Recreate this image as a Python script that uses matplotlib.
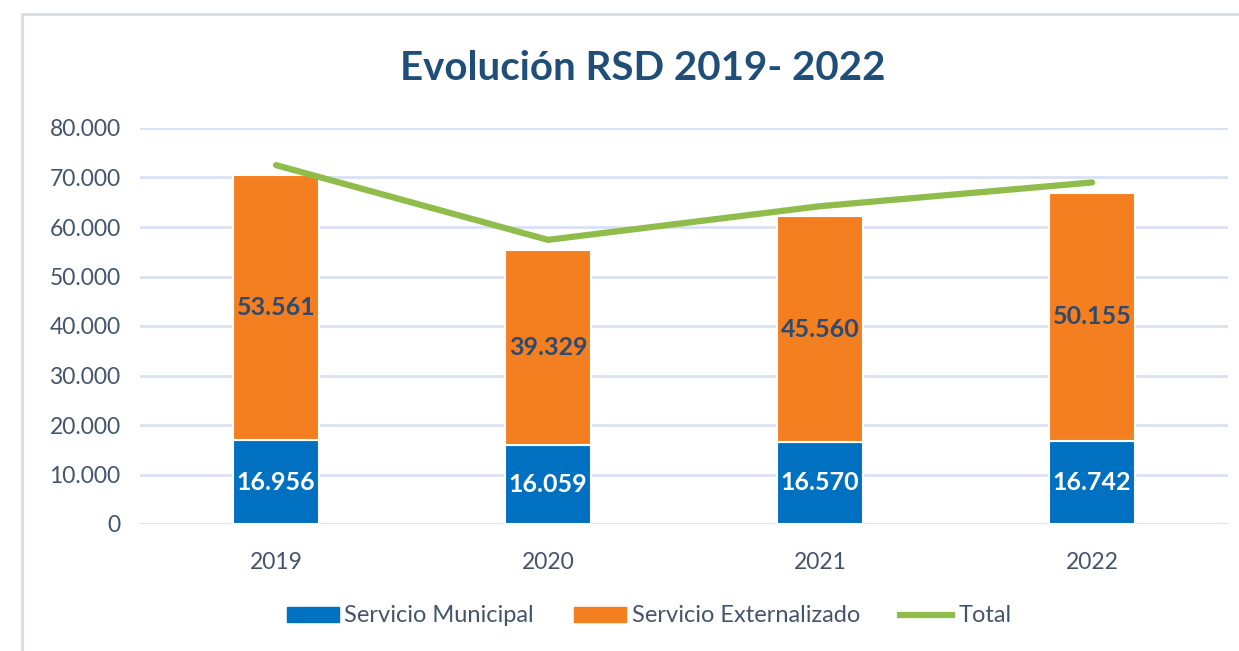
import matplotlib.pyplot as plt
import numpy as np
from matplotlib.patches import Rectangle
from matplotlib.lines import Line2D
from matplotlib.ticker import FuncFormatter

years = ["2019", "2020", "2021", "2022"]
municipal = [16956, 16059, 16570, 16742]
externalizado = [53561, 39329, 45560, 50155]
total = [72500, 57400, 64200, 69000]

BLUE = "#0070C0"
ORANGE = "#F47F20"
GREEN = "#8FBC4A"
TITLE_COL = "#1F4E79"
TICK_COL = "#44546A"
GRID_COL = "#D9E1F2"

plt.rcParams['font.family'] = ['Lato', 'DejaVu Sans']

fig = plt.figure(figsize=(12.39, 6.51), dpi=100)
ax = fig.add_axes([140 / 1239, 1 - 524 / 651, 1088 / 1239, 396 / 651])

x = np.arange(len(years))
w = 0.316
ax.bar(x, municipal, w, color=BLUE, edgecolor="white", linewidth=1.5, zorder=2)
ax.bar(x, externalizado, w, bottom=municipal, color=ORANGE, edgecolor="white",
       linewidth=1.5, zorder=2)
ax.plot(x, total, color=GREEN, linewidth=4.5, solid_capstyle="round", zorder=3)

def fmt(v):
    return "{:,}".format(int(v)).replace(",", ".")

for i in range(len(years)):
    ax.text(x[i], municipal[i] / 2, fmt(municipal[i]), ha="center", va="center",
            color="white", fontsize=18, fontweight="bold", zorder=4)
    ax.text(x[i], municipal[i] + externalizado[i] / 2, fmt(externalizado[i]),
            ha="center", va="center", color="#2E4A6E", fontsize=18,
            fontweight="bold", zorder=4)

ax.set_xlim(-0.5, 3.5)
ax.set_ylim(0, 80000)
ax.set_yticks(np.arange(0, 80001, 10000))
ax.yaxis.set_major_formatter(FuncFormatter(lambda v, p: fmt(v)))
ax.set_xticks(x)
ax.set_xticklabels(years)
ax.grid(axis="y", color=GRID_COL, linewidth=2, zorder=0)
ax.set_axisbelow(True)
for s in ax.spines.values():
    s.set_visible(False)
ax.tick_params(axis="both", length=0, labelsize=16.5, labelcolor=TICK_COL)
ax.tick_params(axis="y", pad=14)
ax.tick_params(axis="x", pad=20)

fig.text(643 / 1239, 1 - 68 / 651, "Evolución RSD 2019- 2022", ha="center",
         va="center", fontsize=29, fontweight="bold", color=TITLE_COL)

handles = [Rectangle((0, 0), 1, 1, color=BLUE),
           Rectangle((0, 0), 1, 1, color=ORANGE),
           Line2D([0], [0], color=GREEN, linewidth=4.5)]
fig.legend(handles, ["Servicio Municipal", "Servicio Externalizado", "Total"],
           loc="center", bbox_to_anchor=(649 / 1239, 1 - 616 / 651), ncol=3,
           frameon=False, fontsize=17, labelcolor=TICK_COL, handlelength=2.2,
           handleheight=0.6, handletextpad=0.25, columnspacing=1.7)

border = Rectangle((22 / 1239, -0.05), 1.2, 1 - 14 / 651 + 0.05,
                   transform=fig.transFigure, fill=False, edgecolor="#D6DCE4",
                   linewidth=2)
fig.patches.append(border)

fig.savefig("out.png", dpi=100)
